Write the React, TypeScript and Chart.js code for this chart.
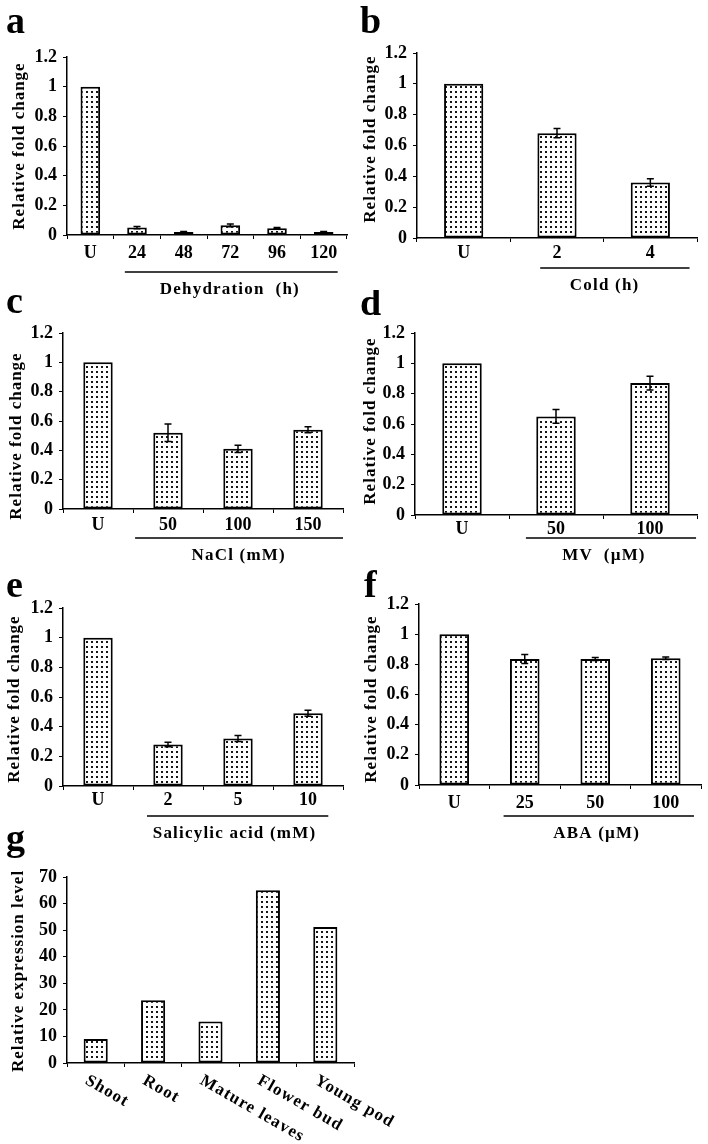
import React, { useEffect, useRef } from 'react';
import { Chart, registerables } from 'chart.js';

Chart.register(...registerables);

const SERIF = "'Liberation Serif', 'Times New Roman', 'DejaVu Serif', serif";

// ---- Data ----
const dehydrationLabels = ['U', '24', '48', '72', '96', '120'];
const dehydrationValues = [1, 0.05, 0.02, 0.065, 0.045, 0.02];
const dehydrationErrors = [0, 0.008, 0.004, 0.01, 0.005, 0.004];

const coldLabels = ['U', '2', '4'];
const coldValues = [1, 0.68, 0.36];
const coldErrors = [0, 0.03, 0.025];

const naclLabels = ['U', '50', '100', '150'];
const naclValues = [1, 0.52, 0.41, 0.54];
const naclErrors = [0, 0.06, 0.025, 0.02];

const mvLabels = ['U', '50', '100'];
const mvValues = [1, 0.65, 0.87];
const mvErrors = [0, 0.045, 0.045];

const saLabels = ['U', '2', '5', '10'];
const saValues = [1, 0.28, 0.32, 0.49];
const saErrors = [0, 0.015, 0.02, 0.02];

const abaLabels = ['U', '25', '50', '100'];
const abaValues = [1, 0.835, 0.835, 0.84];
const abaErrors = [0, 0.03, 0.01, 0.008];

const tissueLabels = ['Shoot', 'Root', 'Mature leaves', 'Flower bud', 'Young pod'];
const tissueValues = [9, 23.6, 15.6, 65, 51.2];

type Box = { left: number; top: number; width: number; height: number };
type Spec = {
  letter: string;
  letterPos: [number, number];
  labels: string[];
  values: number[];
  errors?: number[];
  yMax: number;
  yStep: number;
  yTitle: string;
  titleX: number;
  titleY: number;
  group?: string;
  groupFrom?: number;
  groupTo?: number;
  groupCenter?: number;
  lineY?: number;
  labelPad: number;
  rotated?: boolean;
  box: Box;
  axisX: number;
  plotRight: number;
  plotTop: number;
  plotBottom: number;
};

const panels: Spec[] = [
  {
    letter: 'a', letterPos: [6, 33], labels: dehydrationLabels, values: dehydrationValues, errors: dehydrationErrors,
    yMax: 1.2, yStep: 0.2, yTitle: 'Relative fold change', titleX: 20, titleY: 146,
    group: 'Dehydration  (h)', groupFrom: 1.24, groupTo: 5.8, groupCenter: 3.49, lineY: 272, labelPad: 4,
    box: { left: 0, top: 0, width: 354, height: 300 }, axisX: 67, plotRight: 347, plotTop: 57, plotBottom: 235,
  },
  {
    letter: 'b', letterPos: [360, 33], labels: coldLabels, values: coldValues, errors: coldErrors,
    yMax: 1.2, yStep: 0.2, yTitle: 'Relative fold change', titleX: 371, titleY: 139,
    group: 'Cold (h)', groupFrom: 1.32, groupTo: 2.92, groupCenter: 2.01, lineY: 268, labelPad: 1,
    box: { left: 354, top: 0, width: 354, height: 300 }, axisX: 417, plotRight: 697, plotTop: 53, plotBottom: 238,
  },
  {
    letter: 'c', letterPos: [6, 313], labels: naclLabels, values: naclValues, errors: naclErrors,
    yMax: 1.2, yStep: 0.2, yTitle: 'Relative fold change', titleX: 17, titleY: 436,
    group: 'NaCl (mM)', groupFrom: 1.03, groupTo: 4.0, groupCenter: 2.51, lineY: 538, labelPad: 2,
    box: { left: 0, top: 290, width: 354, height: 280 }, axisX: 63, plotRight: 343, plotTop: 333, plotBottom: 509,
  },
  {
    letter: 'd', letterPos: [360, 315], labels: mvLabels, values: mvValues, errors: mvErrors,
    yMax: 1.2, yStep: 0.2, yTitle: 'Relative fold change', titleX: 371, titleY: 421,
    group: 'MV  (\u00b5M)', groupFrom: 1.18, groupTo: 2.99, groupCenter: 2.01, lineY: 538, labelPad: 0,
    box: { left: 354, top: 290, width: 354, height: 280 }, axisX: 415, plotRight: 697, plotTop: 333, plotBottom: 515,
  },
  {
    letter: 'e', letterPos: [6, 597], labels: saLabels, values: saValues, errors: saErrors,
    yMax: 1.2, yStep: 0.2, yTitle: 'Relative fold change', titleX: 15, titleY: 699,
    group: 'Salicylic acid (mM)', groupFrom: 1.2, groupTo: 3.79, groupCenter: 2.45, lineY: 816, labelPad: 0,
    box: { left: 0, top: 560, width: 354, height: 285 }, axisX: 63, plotRight: 343, plotTop: 608, plotBottom: 786,
  },
  {
    letter: 'f', letterPos: [364, 597], labels: abaLabels, values: abaValues, errors: abaErrors,
    yMax: 1.2, yStep: 0.2, yTitle: 'Relative fold change', titleX: 372, titleY: 699,
    group: 'ABA (\u00b5M)', groupFrom: 1.2, groupTo: 3.9, groupCenter: 2.52, lineY: 816, labelPad: 4,
    box: { left: 354, top: 555, width: 354, height: 290 }, axisX: 419, plotRight: 701, plotTop: 604, plotBottom: 785,
  },
  {
    letter: 'g', letterPos: [6, 850], labels: tissueLabels, values: tissueValues,
    yMax: 70, yStep: 10, yTitle: 'Relative expression level', titleX: 19, titleY: 971,
    rotated: true, labelPad: 4,
    box: { left: 0, top: 820, width: 420, height: 324 }, axisX: 67, plotRight: 354, plotTop: 877, plotBottom: 1063,
  },
];

function makePattern(): CanvasPattern | string {
  const c = document.createElement('canvas');
  c.width = 5;
  c.height = 5;
  const x = c.getContext('2d');
  if (!x) return '#ccc';
  x.fillStyle = '#ffffff';
  x.fillRect(0, 0, 5, 5);
  x.fillStyle = '#161616';
  x.fillRect(1, 1, 2, 2);
  return x.createPattern(c, 'repeat') || '#ccc';
}

function Panel({ spec }: { spec: Spec }) {
  const ref = useRef<HTMLCanvasElement>(null);
  useEffect(() => {
    const canvas = ref.current;
    if (!canvas) return;
    const box = spec.box;
    const ox = box.left;
    const oy = box.top;
    const pattern = makePattern();
    const extras = {
      id: 'extras' + spec.letter,
      afterDraw(chart: any) {
        const ctx: CanvasRenderingContext2D = chart.ctx;
        const ys = chart.scales.y;
        const xs = chart.scales.x;
        const ca = chart.chartArea;
        ctx.save();
        ctx.fillStyle = '#000';
        ctx.strokeStyle = '#000';
        // error bars
        if (spec.errors) {
          const meta = chart.getDatasetMeta(0);
          ctx.lineWidth = 1.5;
          spec.errors.forEach((e, i) => {
            if (!e) return;
            const bx = meta.data[i].x;
            const yT = ys.getPixelForValue(spec.values[i] + e);
            const yB = ys.getPixelForValue(spec.values[i] - e);
            ctx.beginPath();
            ctx.moveTo(bx, yT);
            ctx.lineTo(bx, yB);
            ctx.moveTo(bx - 3.5, yT);
            ctx.lineTo(bx + 3.5, yT);
            ctx.moveTo(bx - 3.5, yB);
            ctx.lineTo(bx + 3.5, yB);
            ctx.stroke();
          });
        }
        // panel letter
        ctx.font = `bold 38px ${SERIF}`;
        ctx.textAlign = 'left';
        ctx.textBaseline = 'alphabetic';
        (ctx as any).letterSpacing = '0px';
        ctx.fillText(spec.letter, spec.letterPos[0] - ox, spec.letterPos[1] - oy);
        // y title
        ctx.save();
        ctx.translate(spec.titleX - ox, spec.titleY - oy);
        ctx.rotate(-Math.PI / 2);
        ctx.font = `bold 17px ${SERIF}`;
        (ctx as any).letterSpacing = '1px';
        ctx.textAlign = 'center';
        ctx.textBaseline = 'middle';
        ctx.fillText(spec.yTitle, 0, 0);
        ctx.restore();
        // group underline + label
        if (spec.group && spec.lineY !== undefined) {
          const n = spec.labels.length;
          const cw = ca.width / n;
          const x1 = ca.left + (spec.groupFrom as number) * cw;
          const x2 = ca.left + (spec.groupTo as number) * cw;
          const y = spec.lineY - oy;
          ctx.lineWidth = 1.5;
          ctx.beginPath();
          ctx.moveTo(x1, y);
          ctx.lineTo(x2, y);
          ctx.stroke();
          ctx.font = `bold 17px ${SERIF}`;
          (ctx as any).letterSpacing = '1.2px';
          ctx.textAlign = 'center';
          ctx.textBaseline = 'middle';
          ctx.fillText(spec.group, ca.left + (spec.groupCenter as number) * cw, y + 18);
        }
        // rotated category labels
        if (spec.rotated) {
          ctx.font = `bold 17px ${SERIF}`;
          (ctx as any).letterSpacing = '1.2px';
          ctx.textAlign = 'left';
          ctx.textBaseline = 'top';
          spec.labels.forEach((lab, i) => {
            const x = xs.getPixelForValue(i) - 5;
            ctx.save();
            ctx.translate(x, ca.bottom + 9);
            ctx.rotate(Math.PI / 6);
            ctx.fillText(lab, 0, 0);
            ctx.restore();
          });
        }
        (ctx as any).letterSpacing = '0px';
        ctx.restore();
      },
    };
    const tickFont = { family: SERIF, size: 18, weight: 'bold' as const };
    const chart = new Chart(canvas, {
      type: 'bar',
      data: {
        labels: spec.labels,
        datasets: [
          {
            data: spec.values,
            backgroundColor: pattern as any,
            borderColor: '#000',
            borderWidth: 2,
            borderSkipped: false,
            barPercentage: 0.42,
            categoryPercentage: 1,
          },
        ],
      },
      options: {
        responsive: false,
        animation: false,
        devicePixelRatio: 1,
        layout: {
          padding: {
            left: 0,
            top: spec.plotTop - box.top,
            right: box.left + box.width - spec.plotRight,
            bottom: 0,
          },
        },
        plugins: {
          legend: { display: false },
          tooltip: { enabled: false },
          title: { display: false },
        },
        scales: {
          x: {
            grid: {
              display: true,
              drawOnChartArea: false,
              drawTicks: true,
              tickLength: 4,
              color: '#000',
              lineWidth: 1,
              offset: true,
            },
            border: { display: true, color: '#000', width: 1.5 },
            ticks: {
              display: !spec.rotated,
              color: '#000',
              font: tickFont,
              padding: spec.labelPad,
              maxRotation: 0,
              minRotation: 0,
              autoSkip: false,
            },
            afterFit: (s: any) => {
              s.height = box.top + box.height - spec.plotBottom;
            },
          },
          y: {
            min: 0,
            max: spec.yMax,
            ticks: {
              stepSize: spec.yStep,
              color: '#000',
              font: tickFont,
              padding: 6,
              callback: (v: any) => String(Math.round(Number(v) * 10) / 10),
            },
            grid: {
              display: true,
              drawOnChartArea: false,
              drawTicks: true,
              tickLength: 4,
              color: '#000',
              lineWidth: 1,
            },
            border: { display: true, color: '#000', width: 1.5 },
            afterFit: (s: any) => {
              s.width = spec.axisX - box.left;
            },
          },
        },
      },
      plugins: [extras],
    });
    return () => chart.destroy();
  }, [spec]);
  const b = spec.box;
  return (
    <canvas
      ref={ref}
      width={b.width}
      height={b.height}
      style={{ position: 'absolute', left: b.left, top: b.top, width: b.width, height: b.height }}
    />
  );
}

export default function App() {
  return (
    <div style={{ position: 'absolute', left: 0, top: 0, width: 708, height: 1144, background: '#fff', overflow: 'hidden' }}>
      {panels.map((p) => (
        <Panel key={p.letter} spec={p} />
      ))}
    </div>
  );
}
